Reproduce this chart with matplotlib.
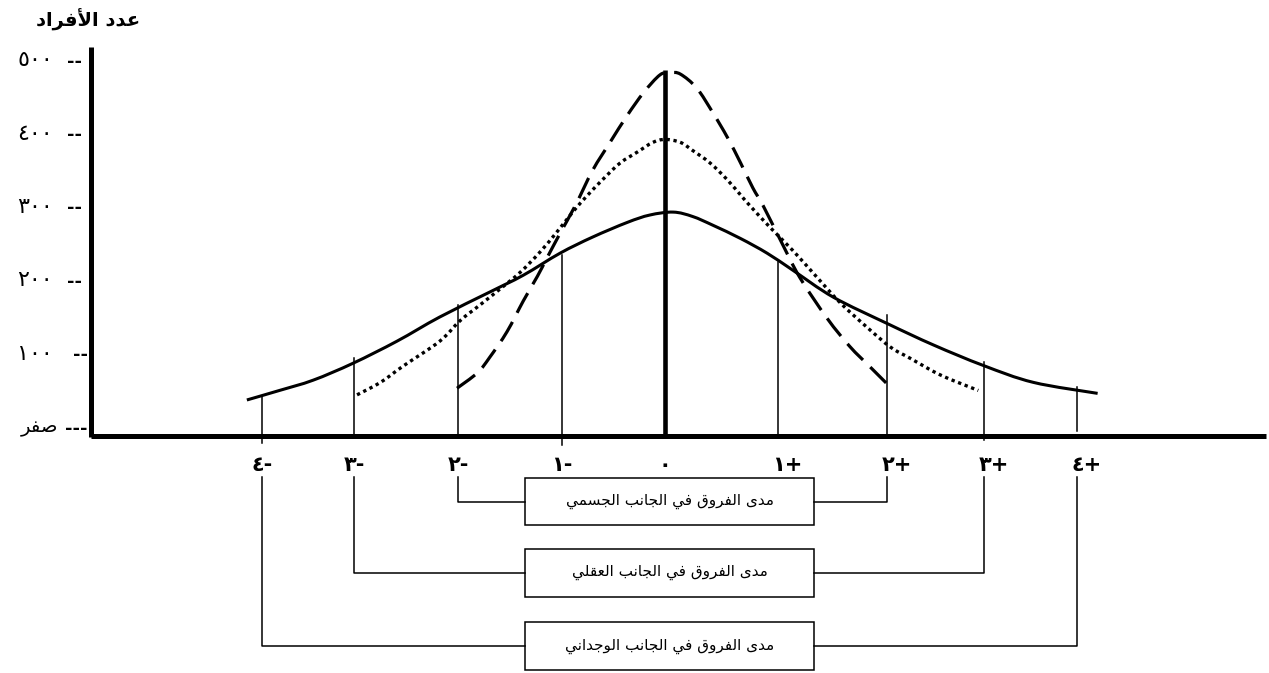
import matplotlib
matplotlib.use("Agg")
import matplotlib.pyplot as plt
from matplotlib.patches import Rectangle, PathPatch
from matplotlib.path import Path

# ---- data (x in sigma units, y in number of persons) ----
y_ticks = [500, 400, 300, 200, 100, 0]
y_tick_text = ['٥٠٠', '٤٠٠', '٣٠٠', '٢٠٠', '١٠٠', 'صفر']

sigma_text = ['٤-', '٣-', '٢-', '١-', '٠', '١+', '٢+', '٣+', '٤+']
sigma_pos = [-3.95, -3.05, -2.03, -1.01, 0.0, 1.11, 2.18, 3.13, 4.04]
# height of the thin division lines (without the centre one)
div_top = [41, 94, 166, 234, 225, 153, 89, 55]
div_bottom = [-22, -14, -12, -24, -12, -12, -18, -5]

# solid curve (widest spread)
solid_x = [-4.1, -3.78, -3.45, -3.06, -2.63, -2.21, -1.72, -1.39, -1.03, -0.71, -0.37, -0.15, 0.08,
           0.27, 0.47, 0.74, 1.0, 1.25, 1.65, 2.18, 2.63, 3.12, 3.61, 4.24]
solid_y = [37, 50, 64, 87, 117, 150, 184, 207, 237, 259, 279, 289, 293,
           287, 275, 257, 237, 214, 177, 141, 112, 84, 61, 46]

# dotted curve
dot_x = [-3.02, -2.79, -2.57, -2.21, -2.01, -1.81, -1.62, -1.42, -1.23, -1.06, -0.9, -0.76, -0.6,
         -0.44, -0.27, -0.12, 0.0, 0.15, 0.27, 0.44, 0.61, 0.76, 0.83, 1.03, 1.25, 1.49, 1.72,
         1.98, 2.21, 2.4, 2.7, 3.07]
dot_y = [44, 61, 83, 117, 145, 167, 188, 211, 238, 266, 294, 316, 339,
         360, 375, 388, 392, 388, 377, 360, 337, 313, 302, 272, 241, 204, 169,
         136, 109, 94, 71, 50]

# dashed curve (narrowest spread)
dash_x = [-2.04, -1.84, -1.72, -1.55, -1.39, -1.25, -1.16, -1.03, -0.88, -0.71, -0.54, -0.37,
          -0.21, -0.05, 0.05, 0.15, 0.31, 0.47, 0.61, 0.74, 0.86, 0.96, 1.13, 1.32, 1.59, 1.81,
          2.01, 2.19]
dash_y = [53, 74, 95, 130, 172, 206, 230, 264, 302, 350, 388, 425,
          456, 480, 483, 481, 462, 428, 395, 360, 326, 302, 255, 204, 148, 110,
          82, 57]

title = 'عدد الأفراد'
range_text = ['مدى الفروق في الجانب الجسمي',
              'مدى الفروق في الجانب العقلي',
              'مدى الفروق في الجانب الوجداني']
range_idx = [2, 3, 4]   # +-2, +-3, +-4

# ---- very small Arabic shaper (matplotlib has no complex text layout) ----
FORMS = {
    'ا': ('\uFE8D', '\uFE8E', None, None),
    'أ': ('\uFE83', '\uFE84', None, None),
    'ب': ('\uFE8F', '\uFE90', '\uFE91', '\uFE92'),
    'ت': ('\uFE95', '\uFE96', '\uFE97', '\uFE98'),
    'ج': ('\uFE9D', '\uFE9E', '\uFE9F', '\uFEA0'),
    'د': ('\uFEA9', '\uFEAA', None, None),
    'ر': ('\uFEAD', '\uFEAE', None, None),
    'س': ('\uFEB1', '\uFEB2', '\uFEB3', '\uFEB4'),
    'ص': ('\uFEB9', '\uFEBA', '\uFEBB', '\uFEBC'),
    'ع': ('\uFEC9', '\uFECA', '\uFECB', '\uFECC'),
    'ف': ('\uFED1', '\uFED2', '\uFED3', '\uFED4'),
    'ق': ('\uFED5', '\uFED6', '\uFED7', '\uFED8'),
    'ل': ('\uFEDD', '\uFEDE', '\uFEDF', '\uFEE0'),
    'م': ('\uFEE1', '\uFEE2', '\uFEE3', '\uFEE4'),
    'ن': ('\uFEE5', '\uFEE6', '\uFEE7', '\uFEE8'),
    'و': ('\uFEED', '\uFEEE', None, None),
    'ى': ('\uFEEF', '\uFEF0', None, None),
    'ي': ('\uFEF1', '\uFEF2', '\uFEF3', '\uFEF4'),
}
LAM_ALEF = {'ا': ('\uFEFB', '\uFEFC'), 'أ': ('\uFEF7', '\uFEF8')}


def shape_word(w):
    toks = []
    i = 0
    while i < len(w):
        if w[i] == 'ل' and i + 1 < len(w) and w[i + 1] in LAM_ALEF:
            toks.append(('la', w[i + 1]))
            i += 2
        else:
            toks.append(('c', w[i]))
            i += 1
    out = []
    for j, (kind, ch) in enumerate(toks):
        prev = j > 0 and toks[j - 1][0] == 'c' and toks[j - 1][1] in FORMS \
            and FORMS[toks[j - 1][1]][2] is not None
        if kind == 'la':
            out.append(LAM_ALEF[ch][1] if prev else LAM_ALEF[ch][0])
            continue
        f = FORMS.get(ch)
        if f is None:
            out.append(ch)
            continue
        nxt = f[2] is not None and j + 1 < len(toks) and \
            (toks[j + 1][0] == 'la' or toks[j + 1][1] in FORMS)
        if prev and nxt:
            out.append(f[3])
        elif prev:
            out.append(f[1])
        elif nxt:
            out.append(f[2])
        else:
            out.append(f[0])
    return ''.join(out)


def ar(text):
    shaped = ' '.join(shape_word(w) for w in text.split(' '))
    return shaped[::-1]


def smooth(xs, ys):
    # bezier path through the read points, drawn by matplotlib
    pts = list(zip(xs, ys))
    verts = [pts[0]]
    codes = [Path.MOVETO]
    for i in range(len(pts) - 1):
        p0 = pts[i - 1] if i > 0 else pts[i]
        p1, p2 = pts[i], pts[i + 1]
        p3 = pts[i + 2] if i + 2 < len(pts) else pts[i + 1]
        c1 = (p1[0] + (p2[0] - p0[0]) / 6, p1[1] + (p2[1] - p0[1]) / 6)
        c2 = (p2[0] - (p3[0] - p1[0]) / 6, p2[1] - (p3[1] - p1[1]) / 6)
        verts += [c1, c2, p2]
        codes += [Path.CURVE4] * 3
    return Path(verts, codes)


plt.rcParams['font.family'] = ['DejaVu Sans']

fig = plt.figure(figsize=(12.69, 6.73), dpi=100)
ax = fig.add_axes([0, 0, 1, 1])
ax.set_xlim(-6.52, 5.92)
ax.set_ylim(-335, 582)
ax.axis('off')

# axes
ax.plot([-5.63, -5.63], [-14, 518], color='black', lw=3.6, solid_capstyle='butt')
ax.plot([-5.63, 5.89], [-12, -12], color='black', lw=3.6, solid_capstyle='butt')
ax.plot([0, 0], [-12, 486], color='black', lw=3.3, solid_capstyle='butt')

# curves
ax.add_patch(PathPatch(smooth(solid_x, solid_y), fill=False, color='black', lw=2.2))
ax.add_patch(PathPatch(smooth(dot_x, dot_y), fill=False, color='black', lw=2.4,
                       linestyle=(0, (1, 1.1)), capstyle='butt'))
ax.add_patch(PathPatch(smooth(dash_x, dash_y), fill=False, color='black', lw=2.3,
                       linestyle=(0, (7, 3.2)), capstyle='butt'))

# thin division lines
side_pos = [p for p in sigma_pos if p != 0]
for p, t, b in zip(side_pos, div_top, div_bottom):
    ax.plot([p, p], [b, t], color='black', lw=1.1)

# y labels
for v, t in zip(y_ticks, y_tick_text):
    if v == 0:
        ax.text(-5.95, v, ar(t), ha='right', va='center', fontsize=14)
        ax.text(-5.88, v - 2, '---', ha='left', va='center', fontsize=13, fontweight='bold')
    else:
        ax.text(-6.0, v, t, ha='right', va='center', fontsize=16)
        dx = -5.8 if v == 100 else -5.86
        ax.text(dx, v - 2, '--', ha='left', va='center', fontsize=13, fontweight='bold')

ax.text(-5.66, 555, ar(title), ha='center', va='center', fontsize=14, fontweight='bold')

# sigma labels
for p, t in zip(sigma_pos, sigma_text):
    off = 0.09 if '+' in t else 0.0
    ax.text(p + off, -52, t, ha='center', va='center', fontsize=15, fontweight='bold')

# range brackets and boxes
box_left, box_right = -1.37, 1.46
box_tops = [-69, -166, -266]
box_h = 65
for k, (t, n) in enumerate(zip(range_text, range_idx)):
    top = box_tops[k]
    mid = top - box_h / 2
    xl = sigma_pos[4 - n]
    xr = sigma_pos[4 + n]
    ax.plot([xl, xl, box_left], [-68, mid, mid], color='black', lw=1.1)
    ax.plot([xr, xr, box_right], [-68, mid, mid], color='black', lw=1.1)
    ax.add_patch(Rectangle((box_left, top - box_h), box_right - box_left, box_h,
                           facecolor='white', edgecolor='black', lw=1.1))
    ax.text((box_left + box_right) / 2, mid, ar(t), ha='center', va='center', fontsize=11)

fig.savefig('out.png', dpi=100)
